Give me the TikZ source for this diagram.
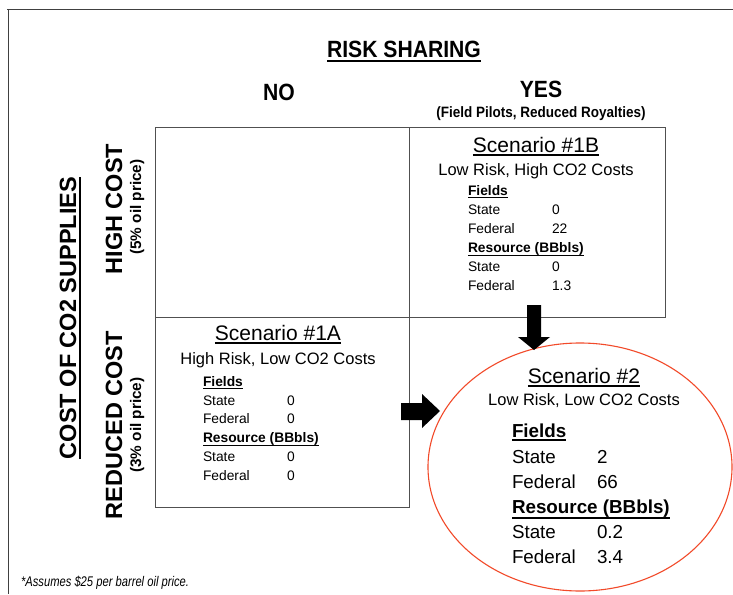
\documentclass[tikz,border=0pt]{standalone}
\usepackage{fontspec}
\setmainfont{Liberation Sans}
\newfontfamily\narrowsans{Liberation Sans}[FakeStretch=0.9]
\newfontfamily\footsans{Liberation Sans}[FakeStretch=0.8]
\usetikzlibrary{shapes.geometric}
\newcommand{\myfs}[1]{\fontsize{#1}{#1}\selectfont}
% \ulx{thickness}{lowest point below baseline}{text}
\newcommand{\ulx}[3]{\setbox0=\hbox{#3}\rlap{\rule[-#2]{\wd0}{#1}}\box0}
\definecolor{framecol}{HTML}{404040}
\definecolor{gridcol}{HTML}{505050}
\definecolor{ellcol}{HTML}{F24A2A}
\begin{document}
\begin{tikzpicture}[x=1pt,y=1pt,
  tl/.style={inner sep=0pt, outer sep=0pt, anchor=base west},
  tc/.style={inner sep=0pt, outer sep=0pt, anchor=base},
  cell/.style={draw=gridcol, line width=1.1pt, rectangle, inner sep=0pt, anchor=north west},
  head/.style={tc, font={\narrowsans\bfseries\myfs{23.5}}},
  side/.style={tc, rotate=90, font={\bfseries\myfs{23.5}}},
  sidesub/.style={tc, rotate=90, font={\bfseries\myfs{15.3}}},
  sctitle/.style={tc, font={\myfs{21}}},
  scsub/.style={tc, font={\myfs{16.5}}},
  itemA/.style={tl, font={\myfs{13.8}}},
  itemB/.style={tl, font={\myfs{18.8}}},
  blockarrow/.style={fill=black, draw=none}
]
\useasboundingbox (0,0) rectangle (733,-594);
\fill[white] (0,0) rectangle (733,-594);

% frame (top and left edges)
\draw[framecol, line width=1pt] (7,-10) -- (733,-10);
\draw[framecol, line width=1pt] (8,-10) -- (8,-594);

% headings
\node[head] (risk) at (404,-57) {\ulx{2pt}{5pt}{RISK SHARING}};
\node[head] (no) at (279,-100) {NO};
\node[head] (yes) at (541,-97) {YES};
\node[tc, font={\narrowsans\bfseries\myfs{15}}] (yessub) at (541,-117) {(Field Pilots, Reduced Royalties)};

% side labels
\node[side] (cost) at (76,-318) {\ulx{2pt}{5pt}{COST OF CO2 SUPPLIES}};
\node[side] (high) at (122,-209) {HIGH COST};
\node[sidesub] (highsub) at (141,-207) {(5\% oil price)};
\node[side] (reduced) at (122,-425) {REDUCED COST};
\node[sidesub] (redsub) at (141,-425) {(3\% oil price)};

% grid cells
\node[cell, minimum width=254pt, minimum height=190pt] (ul) at (155,-127) {};
\node[cell, minimum width=256pt, minimum height=190pt] (ur) at (409,-127) {};
\node[cell, minimum width=254pt, minimum height=190pt] (ll) at (155,-317) {};

% scenario 2 ellipse
\node[ellipse, draw=ellcol, line width=1.1pt, minimum width=304pt, minimum height=248pt, inner sep=0pt] (s2) at (580,-467) {};

% block arrows
\fill[blockarrow] (527,-305) -- (541,-305) -- (541,-337) -- (550,-337) -- (534,-350)
  -- (518,-337) -- (527,-337) -- cycle;
\fill[blockarrow] (401,-403) -- (422,-403) -- (422,-394) -- (440,-411) -- (422,-428)
  -- (422,-420) -- (401,-420) -- cycle;

% Scenario 1B
\node[sctitle] (b-t) at (536,-152) {\ulx{1.6pt}{3.6pt}{Scenario \#1B}};
\node[scsub] (b-s) at (536,-175) {Low Risk, High CO2 Costs};
\node[itemA] (b-f) at (468,-195) {\bfseries\ulx{1.3pt}{2.8pt}{Fields}};
\node[itemA] (b-1) at (468,-214) {State};
\node[itemA] (b-1v) at (552,-214) {0};
\node[itemA] (b-2) at (468,-233) {Federal};
\node[itemA] (b-2v) at (552,-233) {22};
\node[itemA] (b-r) at (468,-252) {\bfseries\ulx{1.3pt}{4.2pt}{Resource (BBbls)}};
\node[itemA] (b-3) at (468,-271) {State};
\node[itemA] (b-3v) at (552,-271) {0};
\node[itemA] (b-4) at (468,-290) {Federal};
\node[itemA] (b-4v) at (552,-290) {1.3};

% Scenario 1A
\node[sctitle] (a-t) at (278,-340) {\ulx{1.6pt}{3.6pt}{Scenario \#1A}};
\node[scsub] (a-s) at (278,-364) {High Risk, Low CO2 Costs};
\node[itemA] (a-f) at (203,-386) {\bfseries\ulx{1.3pt}{2.8pt}{Fields}};
\node[itemA] (a-1) at (203,-405) {State};
\node[itemA] (a-1v) at (287,-405) {0};
\node[itemA] (a-2) at (203,-423) {Federal};
\node[itemA] (a-2v) at (287,-423) {0};
\node[itemA] (a-r) at (203,-442) {\bfseries\ulx{1.3pt}{4.2pt}{Resource (BBbls)}};
\node[itemA] (a-3) at (203,-461) {State};
\node[itemA] (a-3v) at (287,-461) {0};
\node[itemA] (a-4) at (203,-480) {Federal};
\node[itemA] (a-4v) at (287,-480) {0};

% Scenario 2
\node[sctitle] (c-t) at (584,-383) {\ulx{1.6pt}{3.6pt}{Scenario \#2}};
\node[scsub] (c-s) at (584,-405) {Low Risk, Low CO2 Costs};
\node[itemB] (c-f) at (512,-437) {\bfseries\ulx{1.8pt}{3.8pt}{Fields}};
\node[itemB] (c-1) at (512,-463) {State};
\node[itemB] (c-1v) at (597,-463) {2};
\node[itemB] (c-2) at (512,-488) {Federal};
\node[itemB] (c-2v) at (597,-488) {66};
\node[itemB] (c-r) at (512,-513) {\bfseries\ulx{1.8pt}{5.6pt}{Resource (BBbls)}};
\node[itemB] (c-3) at (512,-538) {State};
\node[itemB] (c-3v) at (597,-538) {0.2};
\node[itemB] (c-4) at (512,-563) {Federal};
\node[itemB] (c-4v) at (597,-563) {3.4};

% footnote
\node[tl, font={\footsans\itshape\myfs{14}}] (foot) at (21,-586) {*Assumes \$25 per barrel oil price.};
\end{tikzpicture}
\end{document}
